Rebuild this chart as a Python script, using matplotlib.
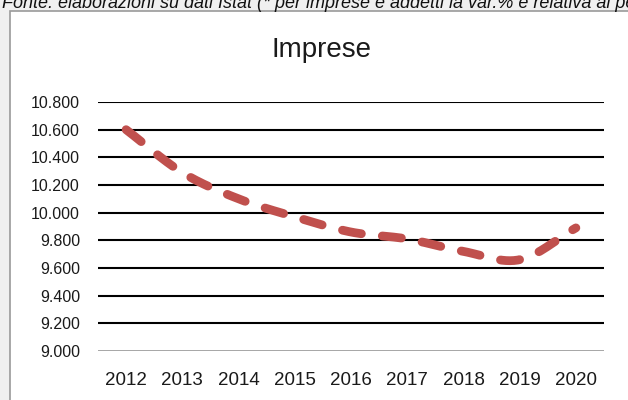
import numpy as np
import matplotlib
matplotlib.use("Agg")
import matplotlib.pyplot as plt
from matplotlib.patches import Rectangle

title = "Imprese"
source_note = "Fonte: elaborazioni su dati Istat (* per imprese e addetti la var.% è relativa al periodo"
years = ["2012", "2013", "2014", "2015", "2016", "2017", "2018", "2019", "2020"]
imprese = [10600, 10290, 10100, 9970, 9860, 9810, 9720, 9660, 9890]
y_ticks = [9000, 9200, 9400, 9600, 9800, 10000, 10200, 10400, 10600, 10800]
y_labels = ["9.000", "9.200", "9.400", "9.600", "9.800", "10.000", "10.200", "10.400", "10.600", "10.800"]

W, H = 628, 400
fig = plt.figure(figsize=(W / 100, H / 100), dpi=100)
fig.patch.set_facecolor("#f0f0f0")
plt.rcParams["font.family"] = ["Liberation Sans", "DejaVu Sans"]

# white chart area with border (extends past right/bottom)
fig.patches.append(Rectangle((10 / W, -0.05), 1.1, 1 - 11 / H + 0.05,
                             transform=fig.transFigure, facecolor="white",
                             edgecolor="#9a9a9a", linewidth=1.2, zorder=-5))

fig.text(2 / W, 1 - 8 / H, source_note, fontsize=13, style="italic",
         ha="left", va="baseline", color="#111111")

ax = fig.add_axes([98 / W, 1 - 351 / H, (604 - 98) / W, (351 - 102) / H])
ax.set_zorder(2)
ax.set_facecolor("none")
ax.set_xlim(-0.5, len(years) - 0.5)
ax.set_ylim(y_ticks[0], y_ticks[-1])
for s in ax.spines.values():
    s.set_visible(False)
for v in y_ticks[1:]:
    ax.axhline(v, color="black", lw=1.5, zorder=1)
ax.axhline(y_ticks[0], color="#8c8c8c", lw=1.8, zorder=1)

ax.set_yticks(y_ticks)
ax.set_yticklabels(y_labels, fontsize=11.5, color="#1a1a1a")
ax.set_xticks(range(len(years)))
ax.set_xticklabels(years, fontsize=13.5, color="#1a1a1a")
ax.tick_params(axis="y", length=0, pad=13)
ax.tick_params(axis="x", length=0, pad=15)

# smooth (Catmull-Rom) curve through data points
x = np.arange(len(imprese), dtype=float)
y = np.array(imprese, dtype=float)
px = np.concatenate([[2 * x[0] - x[1]], x, [2 * x[-1] - x[-2]]])
py = np.concatenate([[2 * y[0] - y[1]], y, [2 * y[-1] - y[-2]]])
xs, ys = [], []
t = np.linspace(0, 1, 30)
for i in range(1, len(px) - 2):
    p0, p1, p2, p3 = (np.array([px[j], py[j]]) for j in range(i - 1, i + 3))
    c1 = p1 + (p2 - p0) / 6
    c2 = p2 - (p3 - p1) / 6
    b = ((1 - t) ** 3)[:, None] * p1 + (3 * (1 - t) ** 2 * t)[:, None] * c1 \
        + (3 * (1 - t) * t ** 2)[:, None] * c2 + (t ** 3)[:, None] * p2
    xs.extend(b[:, 0]); ys.extend(b[:, 1])
line, = ax.plot(xs, ys, color="#c0504d", lw=6.3, solid_capstyle="round",
                dash_capstyle="round", zorder=3)
line.set_dashes([2.2, 2.4])

fig.text(322 / W, 1 - 50 / H, title, fontsize=20, ha="center", va="center",
         color="#1a1a1a")

fig.savefig("out.png", dpi=100, facecolor=fig.get_facecolor())
